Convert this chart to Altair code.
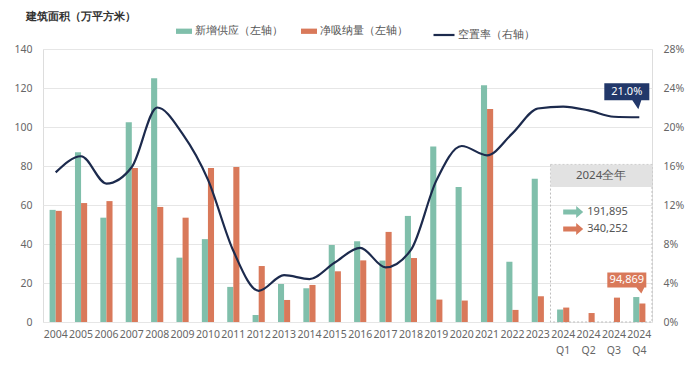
import altair as alt
import pandas as pd

categories = ["2004", "2005", "2006", "2007", "2008", "2009", "2010", "2011", "2012",
              "2013", "2014", "2015", "2016", "2017", "2018", "2019", "2020", "2021",
              "2022", "2023", "2024 Q1", "2024 Q2", "2024 Q3", "2024 Q4"]
supply = [57.5, 87.0, 53.5, 102.5, 125.0, 33.0, 42.5, 18.0, 3.6, 19.5, 17.3, 39.5,
          41.4, 31.5, 54.4, 90.0, 69.2, 121.4, 30.9, 73.5, 6.4, 0.0, 0.0, 12.8]
absorption = [57.0, 61.0, 62.0, 79.0, 59.0, 53.5, 79.0, 79.5, 28.7, 11.3, 19.0, 26.0,
              31.6, 46.2, 32.8, 11.5, 11.0, 109.2, 6.2, 13.2, 7.4, 4.6, 12.5, 9.49]
vacancy = [15.35, 17.0, 14.2, 15.9, 22.0, 19.3, 14.6, 7.3, 3.2, 4.8, 4.4, 6.1,
           7.6, 5.6, 7.4, 14.5, 18.05, 17.1, 19.35, 21.9, 22.1, 21.7, 21.05, 21.0]
series_names = ["新增供应（左轴）", "净吸纳量（左轴）"]
line_name = "空置率（右轴）"
y_title = "建筑面积（万平方米）"
box_title = "2024全年"
year_totals = ["191,895", "340,252"]
q4_absorb_label = "94,869"
q4_rate_label = "21.0%"

GREEN = "#80bfab"
ORANGE = "#d9795a"
NAVY = "#1c2a4d"
CALLOUT_BLUE = "#22386a"
FONT = "Noto Sans"

bars_df = pd.DataFrame({
    "cat": categories * 2,
    "series": [series_names[0]] * len(categories) + [series_names[1]] * len(categories),
    "value": supply + absorption,
})
line_df = pd.DataFrame({"cat": categories, "rate": vacancy, "s": line_name})

x_axis = alt.Axis(title=None, labelAngle=0, labelExpr="split(datum.label, ' ')",
                  labelOverlap=False, labelBound=False, labelLimit=200, domain=False,
                  ticks=False, labelPadding=7, labelFontSize=10.5, labelColor="#666",
                  labelLineHeight=16, grid=False)
x_scale = alt.Scale(domain=categories, paddingInner=0.52, paddingOuter=0.26)


def X(field="cat", **kw):
    return alt.X(f"{field}:N", sort=categories, scale=x_scale, axis=x_axis, **kw)


left_axis = alt.Axis(title=y_title, titleAngle=0, titleAlign="left", titleBaseline="middle",
                     titleX=-18, titleY=-33, titleFontSize=11, titleFontWeight="bold",
                     titleColor="#333", values=list(range(0, 141, 20)), grid=True,
                     gridColor="#e6e6e6", domain=False, ticks=False, labelPadding=11,
                     labelFontSize=10.5, labelColor="#666")
left_scale = alt.Scale(domain=[0, 140], nice=False)


def YL(field):
    return alt.Y(f"{field}:Q", scale=left_scale, axis=left_axis)


right_axis = alt.Axis(title=None, orient="right", values=list(range(0, 29, 4)),
                      labelExpr="datum.value + '%'", grid=False, domain=False, ticks=False,
                      labelPadding=11, labelFontSize=10.5, labelColor="#666")
right_scale = alt.Scale(domain=[0, 28], nice=False)

bars = alt.Chart(bars_df).mark_bar().encode(
    x=X(),
    xOffset=alt.XOffset("series:N", sort=series_names,
                        scale=alt.Scale(domain=series_names, paddingInner=0, paddingOuter=0)),
    y=YL("value"),
    color=alt.Color("series:N", scale=alt.Scale(domain=series_names, range=[GREEN, ORANGE]),
                    legend=alt.Legend(orient="none", legendX=133, legendY=-26,
                                      direction="horizontal", title=None,
                                      symbolType="M-1,-0.33H1V0.33H-1Z", symbolSize=256,
                                      symbolStrokeWidth=0, labelFontSize=10.5,
                                      labelColor="#555", columnPadding=18, labelOffset=3,
                                      labelFont=FONT)),
)

box_df = pd.DataFrame({"cat": ["2024 Q1"], "cat2": ["2024 Q4"], "top": [80.8],
                       "bottom": [0.0], "head": [69.2]})
box = alt.Chart(box_df).mark_rect(fillOpacity=0, stroke="#bdbdbd", strokeDash=[2, 2],
                                  strokeWidth=1, xOffset=-6.6, x2Offset=6.6).encode(
    x=X(bandPosition=0), x2=alt.X2("cat2", bandPosition=1),
    y=YL("top"), y2="bottom")
header = alt.Chart(box_df).mark_rect(fill="#e2e2e2", xOffset=-6.6, x2Offset=6.6).encode(
    x=X(bandPosition=0), x2=alt.X2("cat2", bandPosition=1),
    y=YL("top"), y2="head")
header_text_df = pd.DataFrame({"cat": ["2024 Q2"], "y": [75.0], "t": [box_title]})
header_text = alt.Chart(header_text_df).mark_text(
    dx=12.5, fontSize=11.5, color="#555", font=FONT).encode(x=X(), y=YL("y"), text="t:N")

arrow_df = pd.DataFrame({"cat": ["2024 Q1", "2024 Q1"], "y": [56.4, 47.7],
                         "t": year_totals, "series": series_names})
ARROW = "M0,-2.5H13V-6L20,0L13,6V2.5H0Z"
arrows = alt.Chart(arrow_df).mark_point(shape=ARROW, size=4, filled=True, opacity=1,
                                        strokeWidth=0).encode(
    x=X(), y=YL("y"),
    fill=alt.Fill("series:N", scale=alt.Scale(domain=series_names, range=[GREEN, ORANGE]),
                  legend=None))
arrow_text = alt.Chart(arrow_df).mark_text(dx=24, align="left", fontSize=11, color="#555",
                                           font=FONT).encode(x=X(), y=YL("y"), text="t:N")

oc_df = pd.DataFrame({"cat": ["2024 Q4"], "y": [absorption[-1]], "t": [q4_absorb_label]})
oc_box = alt.Chart(oc_df).mark_point(shape="M-32,-31H7V-16H5L2,-10L-3,-16H-32Z", size=4,
                                     filled=True, opacity=1, strokeWidth=0,
                                     color=ORANGE).encode(x=X(), y=YL("y"))
oc_text = alt.Chart(oc_df).mark_text(dx=-12.5, dy=-23.5, fontSize=11, color="white",
                                     font=FONT).encode(x=X(), y=YL("y"), text="t:N")

line = alt.Chart(line_df).mark_line(interpolate="monotone", strokeWidth=2.2).encode(
    x=X(),
    y=alt.Y("rate:Q", scale=right_scale, axis=right_axis),
    stroke=alt.Stroke("s:N", scale=alt.Scale(domain=[line_name], range=[NAVY]),
                      legend=alt.Legend(orient="none", legendX=389, legendY=-26, title=None,
                                        symbolType="stroke", symbolSize=441,
                                        symbolStrokeWidth=2.2, labelFontSize=10.5,
                                        labelColor="#555", labelOffset=2, labelFont=FONT)),
)
bc_df = pd.DataFrame({"cat": ["2024 Q4"], "rate": [vacancy[-1]], "t": [q4_rate_label]})
bc_box = alt.Chart(bc_df).mark_point(shape="M-35,-34H10V-17H2L-1,-8L-7,-17H-35Z", size=4,
                                     filled=True, opacity=1, strokeWidth=0,
                                     color=CALLOUT_BLUE).encode(
    x=X(), y=alt.Y("rate:Q", scale=right_scale, axis=right_axis))
bc_text = alt.Chart(bc_df).mark_text(dx=-12.5, dy=-25.5, fontSize=11, color="white",
                                     font=FONT).encode(
    x=X(), y=alt.Y("rate:Q", scale=right_scale, axis=right_axis), text="t:N")

left = alt.layer(box, header, header_text, bars, arrows, arrow_text, oc_box, oc_text)
right = alt.layer(line, bc_box, bc_text)

chart = alt.layer(left, right).resolve_scale(y="independent").properties(
    width=609, height=273,
    autosize=alt.AutoSizeParams(type="none"),
    padding={"left": 35, "top": 41, "right": 40, "bottom": 40},
).configure_view(stroke=None).configure(font=FONT).configure_axis(
    labelFont=FONT, titleFont=FONT)

chart.save("out.html", embed_options={"renderer": "svg", "actions": False})
